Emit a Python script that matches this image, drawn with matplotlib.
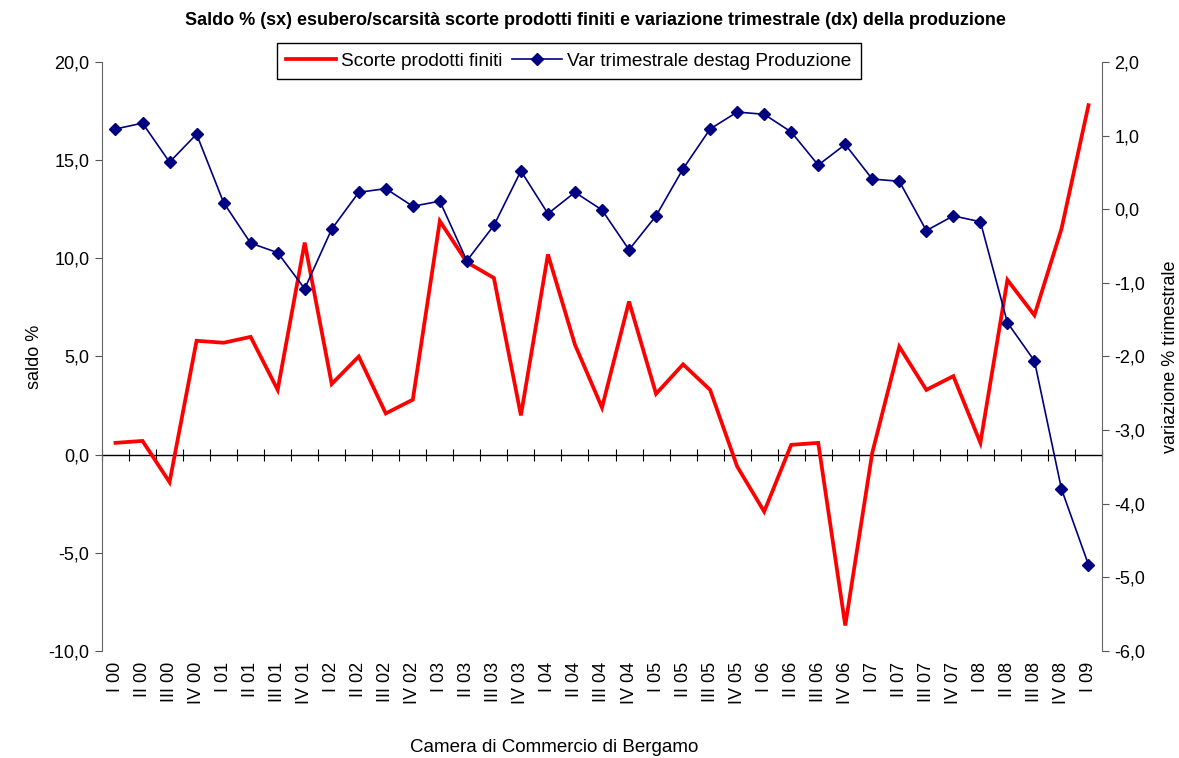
import matplotlib
matplotlib.use("Agg")
import matplotlib.pyplot as plt
from matplotlib.ticker import FuncFormatter, FixedLocator
import numpy as np

plt.rcParams['font.family'] = ['Liberation Sans', 'DejaVu Sans']

quarters = ["I 00", "II 00", "III 00", "IV 00",
            "I 01", "II 01", "III 01", "IV 01",
            "I 02", "II 02", "III 02", "IV 02",
            "I 03", "II 03", "III 03", "IV 03",
            "I 04", "II 04", "III 04", "IV 04",
            "I 05", "II 05", "III 05", "IV 05",
            "I 06", "II 06", "III 06", "IV 06",
            "I 07", "II 07", "III 07", "IV 07",
            "I 08", "II 08", "III 08", "IV 08",
            "I 09"]

scorte = [0.6, 0.7, -1.4, 5.8,
          5.7, 6.0, 3.3, 10.8,
          3.6, 5.0, 2.1, 2.8,
          11.9, 9.8, 9.0, 2.0,
          10.2, 5.6, 2.4, 7.8,
          3.1, 4.6, 3.3, -0.6,
          -2.9, 0.5, 0.6, -8.7,
          0.1, 5.5, 3.3, 4.0,
          0.6, 8.9, 7.1, 11.5,
          17.8]

produzione = [1.09, 1.17, 0.64, 1.02,
              0.09, -0.46, -0.59, -1.08,
              -0.27, 0.23, 0.28, 0.04,
              0.11, -0.70, -0.22, 0.52,
              -0.06, 0.23, -0.01, -0.55,
              -0.09, 0.55, 1.09, 1.32,
              1.29, 1.05, 0.60, 0.88,
              0.41, 0.38, -0.29, -0.09,
              -0.17, -1.54, -2.06, -3.80,
              -4.83]

title = "Saldo % (sx) esubero/scarsità scorte prodotti finiti e variazione trimestrale (dx) della produzione"
left_label = "saldo %"
right_label = "variazione % trimestrale"
source = "Camera di Commercio di Bergamo"
label_scorte = "Scorte prodotti finiti"
label_prod = "Var trimestrale destag Produzione"

fig = plt.figure(figsize=(11.79, 7.58), dpi=100)
ax = fig.add_axes([0.0865, 0.1412, 0.9347 - 0.0865, 0.9182 - 0.1412])
ax2 = ax.twinx()

x = np.arange(len(quarters))
l1, = ax.plot(x, scorte, color='#ff0000', lw=2.7, solid_joinstyle='miter', zorder=3)
l2, = ax2.plot(x, produzione, color='#000080', lw=1.2, marker='D', markersize=6.5,
               markerfacecolor='#000080', markeredgecolor='#000080', zorder=3)

ax.set_xlim(-0.5, len(quarters) - 0.5)
ax.set_ylim(-10, 20)
ax2.set_ylim(-6, 2)
ax.set_yticks(np.arange(-10, 20.1, 5))
ax2.set_yticks(np.arange(-6, 2.1, 1))
fmt = FuncFormatter(lambda v, p: f"{v:.1f}".replace('.', ','))
ax.yaxis.set_major_formatter(fmt)
ax2.yaxis.set_major_formatter(fmt)

for a in (ax, ax2):
    a.spines['top'].set_visible(False)
    a.spines['bottom'].set_visible(False)
    a.tick_params(axis='y', labelsize=13, length=5, width=0.8, color='#555555')
ax.spines['left'].set_color('#666666')
ax2.spines['right'].set_color('#666666')
ax.spines['right'].set_visible(False)
ax2.spines['left'].set_visible(False)
ax.tick_params(axis='y', pad=4)
ax2.tick_params(axis='y', pad=4)

# category labels at bottom
ax.set_xticks(x)
ax.set_xticklabels(quarters, rotation=90, fontsize=13)
ax.tick_params(axis='x', length=0, pad=8)

# category axis crossing at 0 with boundary ticks
ax.axhline(0, color='black', lw=1.0, zorder=2)
sec = ax.secondary_xaxis(1/3)
sec.xaxis.set_major_locator(FixedLocator(np.arange(-0.5, len(quarters), 1.0)))
sec.tick_params(axis='x', direction='inout', length=9, width=0.8, labelbottom=False,
                color='black')
sec.spines['bottom'].set_visible(False)
sec.set_xticklabels([])

ax.set_ylabel(left_label, fontsize=13, labelpad=4)
ax2.set_ylabel(right_label, fontsize=13, labelpad=12)

fig.text(0.505, 0.973, title, ha='center', va='center', fontsize=13, fontweight='bold')
fig.text(0.47, 0.002, source, ha='center', va='bottom', fontsize=13.5)

leg = fig.legend([l1, l2], [label_scorte, label_prod], loc='center',
                 bbox_to_anchor=(0.4826, 0.9195), ncol=2, fontsize=13.7,
                 frameon=True, fancybox=False, edgecolor='black', framealpha=1,
                 handlelength=2.6, columnspacing=0.5, handletextpad=0.3,
                 borderpad=0.5, borderaxespad=0)
leg.get_frame().set_linewidth(1.0)

fig.savefig("out.png", dpi=100)
